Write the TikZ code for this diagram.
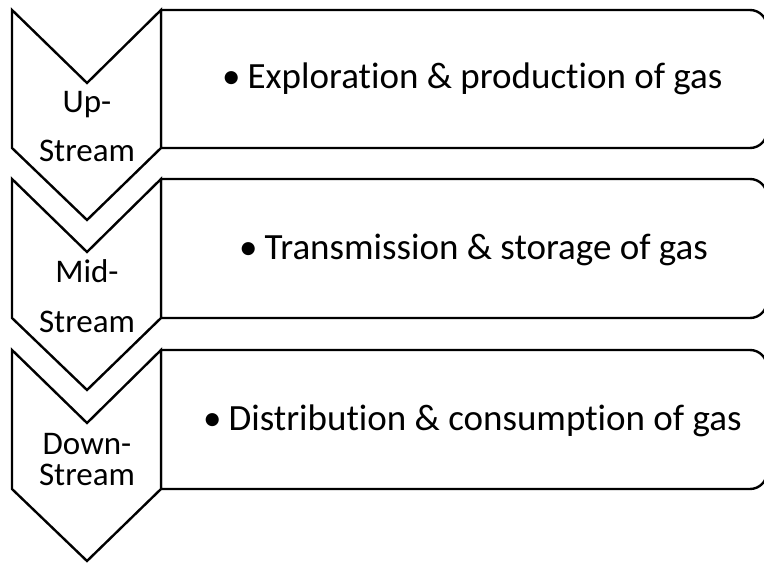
\documentclass[tikz,border=0pt]{standalone}
\usepackage{fontspec}
\setmainfont[Ligatures=NoCommon]{Carlito}
\begin{document}
\begin{tikzpicture}[x=1bp,y=-1bp,
  outline/.style={draw=black,line width=2.4bp,line join=miter,fill=white},
  stagetext/.style={anchor=base,inner sep=0pt,font=\fontsize{33bp}{40bp}\selectfont},
  itemtext/.style={anchor=base west,inner sep=0pt,font=\fontsize{37bp}{44bp}\selectfont}]
\useasboundingbox (0,0) rectangle (764,564);
\clip (0,0) rectangle (764,564);

% description panels: square on the left, rounded on the right
\foreach \t/\b in {10/148,179/318,350/489}{
  \draw[outline] (161,\b) -- (161,\t) [rounded corners=17bp] -- (767,\t) -- (767,\b) [sharp corners] -- cycle;
}

% downward chevrons
\foreach \t/\b in {10/148,179/318,350/489}{
  \draw[outline] (12,\t) -- (87,\t+73) -- (161,\t) -- (161,\b) -- (87,\b+72) -- (12,\b) -- cycle;
}

% stage labels
\node[stagetext] (up1) at (87,113) {Up-};
\node[stagetext] (up2) at (87,162) {Stream};
\node[stagetext] (mid1) at (87,282) {Mid-};
\node[stagetext] (mid2) at (87,332) {Stream};
\node[stagetext] (down1) at (87,454) {Down-};
\node[stagetext] (down2) at (87,485) {Stream};

% stage descriptions
\node[itemtext] (exp) at (222,89) {•\hspace{7bp}Exploration \& production of gas};
\node[itemtext] (tra) at (239,259) {•\hspace{7bp}Transmission \& storage of gas};
\node[itemtext] (dis) at (203,430) {•\hspace{7bp}Distribution \& consumption of gas};
\end{tikzpicture}
\end{document}
